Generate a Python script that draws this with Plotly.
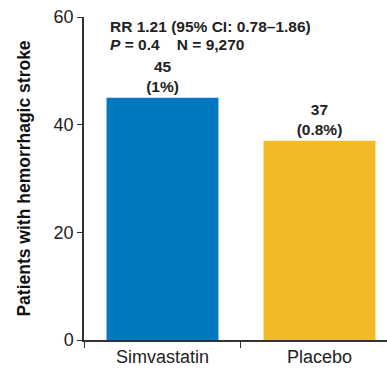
import plotly.graph_objects as go

categories = ["Simvastatin", "Placebo"]
patients = [45, 37]
percent_labels = ["(1%)", "(0.8%)"]
colors = ["#0079C1", "#F3BA27"]
y_ticks = [0, 20, 40, 60]
stats_line1 = "RR 1.21 (95% CI: 0.78\u20131.86)"
stats_line2 = "<i>P</i> = 0.4\u00a0\u00a0\u00a0\u00a0N = 9,270"

bar_text = [f"<b>{v}<br>{p}</b>" for v, p in zip(patients, percent_labels)]

fig = go.Figure(go.Bar(
    x=categories, y=patients, text=bar_text, textposition="outside",
    marker=dict(color=colors, line=dict(width=0)),
    textfont=dict(family="Liberation Sans, Arial", size=15.5, color="#222"),
    cliponaxis=False, width=0.713, hoverinfo="skip",
))

fig.update_layout(
    width=387, height=372,
    margin=dict(l=84, r=0, t=17, b=32, pad=0, autoexpand=False),
    plot_bgcolor="white", paper_bgcolor="white",
    font=dict(family="Liberation Sans, Arial", color="#222"),
    showlegend=False,
    xaxis=dict(range=[-0.5, 1.43], showline=True, linecolor="#333", linewidth=1.5,
               ticks="outside", tickson="boundaries", ticklen=6, tickcolor="#333",
               tickfont=dict(size=18, color="#222"), showgrid=False, fixedrange=True,
               automargin=False),
    yaxis=dict(range=[0, 60], tickvals=y_ticks, showline=True, linecolor="#333",
               linewidth=1.5, ticks="outside", ticklen=5, tickcolor="#333",
               tickfont=dict(size=18, color="#222"), showgrid=False, zeroline=False,
               automargin=False, fixedrange=True,
               title=dict(text="<b>Patients with hemorrhagic stroke</b>",
                          font=dict(size=17.5, color="#111"), standoff=18)),
)

fig.add_annotation(xref="paper", yref="y", x=(108 - 84) / 303, y=58.3, xanchor="left",
                   yanchor="middle", text=f"<b>{stats_line1}</b>", showarrow=False,
                   font=dict(size=15.5, color="#222"))
fig.add_annotation(xref="paper", yref="y", x=(108 - 84) / 303, y=54.8, xanchor="left",
                   yanchor="middle", text=f"<b>{stats_line2}</b>", showarrow=False,
                   font=dict(size=15.5, color="#222"))

fig.write_html("out.html", config={"displayModeBar": False},
               post_script="document.body.style.margin='0';document.body.style.overflow='hidden';")
